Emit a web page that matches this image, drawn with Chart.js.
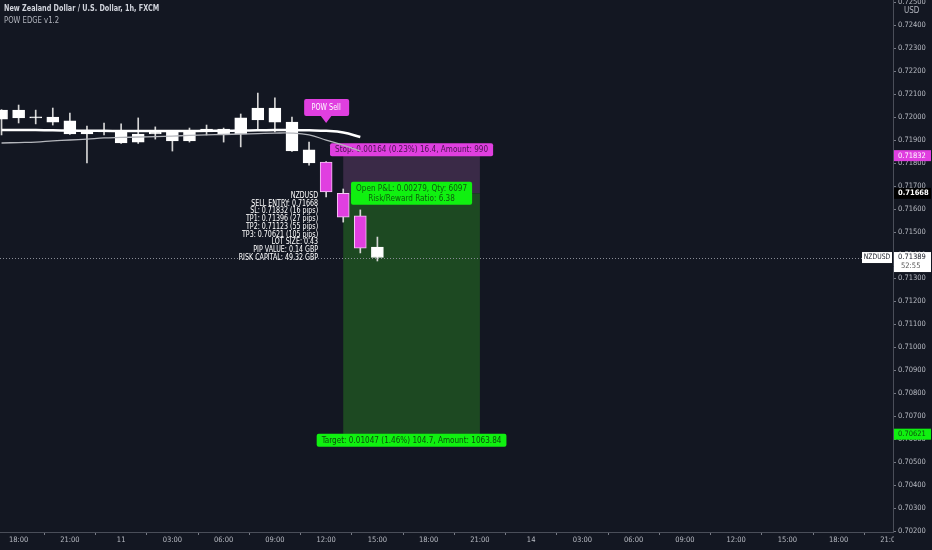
<!DOCTYPE html>
<html>
<head>
<meta charset="utf-8">
<style>
  html, body { margin: 0; padding: 0; background: #131722; }
  #caixa { width: 932px; height: 550px; }
</style>
<script src="https://cdn.jsdelivr.net/npm/chart.js@4.4.1/dist/chart.umd.min.js"></script>
</head>
<body>
<div id="caixa"><canvas id="graficoNzd" width="932" height="550"></canvas></div>
<script>
// 1. DATA (one candle per hour)
const openPrices  = [0.72030, 0.71996, 0.71998, 0.72000, 0.71983, 0.71926, 0.71935, 0.71939, 0.71891, 0.71926, 0.71935, 0.71896,
                     0.71935, 0.71948, 0.71926, 0.71987, 0.72039, 0.71978, 0.71857, 0.71804, 0.71668, 0.71570, 0.71435];
const highPrices  = [0.72032, 0.72052, 0.72030, 0.72039, 0.72017, 0.71961, 0.71974, 0.71970, 0.71996, 0.71957, 0.71937, 0.71952,
                     0.71965, 0.71952, 0.72013, 0.72104, 0.72083, 0.72000, 0.71891, 0.71806, 0.71687, 0.71596, 0.71478];
const lowPrices   = [0.71922, 0.71974, 0.71970, 0.71965, 0.71924, 0.71800, 0.71922, 0.71885, 0.71885, 0.71904, 0.71852, 0.71891,
                     0.71922, 0.71891, 0.71870, 0.71943, 0.71935, 0.71850, 0.71791, 0.71652, 0.71543, 0.71409, 0.71374];
const closePrices = [0.71991, 0.72030, 0.71996, 0.71978, 0.71926, 0.71939, 0.71936, 0.71887, 0.71926, 0.71935, 0.71896, 0.71935,
                     0.71948, 0.71926, 0.71996, 0.72039, 0.71978, 0.71852, 0.71800, 0.71674, 0.71565, 0.71430, 0.71389];
const signalCandles = [19, 20, 21];

const fastAverage = [0.71944, 0.71943, 0.71943, 0.71942, 0.71941, 0.71940, 0.71940, 0.71939, 0.71939, 0.71939, 0.71939,
                     0.71939, 0.71940, 0.71940, 0.71941, 0.71942, 0.71943, 0.71943, 0.71942, 0.71940, 0.71933, 0.71913];
const slowAverage = [0.71887, 0.71889, 0.71891, 0.71896, 0.71900, 0.71904, 0.71909, 0.71911, 0.71913, 0.71915, 0.71917,
                     0.71920, 0.71922, 0.71924, 0.71926, 0.71928, 0.71930, 0.71930, 0.71922, 0.71900, 0.71878, 0.71852];

const timeTickIndexes = [1, 4, 7, 10, 13, 16, 19, 22, 25, 28, 31, 34, 37, 40, 43, 46, 49, 52];
const timeTickLabels  = ['18:00', '21:00', '11', '03:00', '06:00', '09:00', '12:00', '15:00', '18:00',
                         '21:00', '14', '03:00', '06:00', '09:00', '12:00', '15:00', '18:00', '21:00'];
const priceTicks = [0.702, 0.703, 0.704, 0.705, 0.706, 0.707, 0.708, 0.709, 0.710, 0.711, 0.712, 0.713,
                    0.714, 0.715, 0.716, 0.717, 0.718, 0.719, 0.720, 0.721, 0.722, 0.723, 0.724, 0.725];

const entryPrice = 0.71668;
const stopPrice = 0.71832;
const targetPrice = 0.70621;
const lastPrice = 0.71389;
const signalPrice = 0.71974;
const positionFrom = 20;
const positionTo = 28;

const infoLines = ['NZDUSD', 'SELL ENTRY: 0.71668', 'SL: 0.71832 (16 pips)', 'TP1: 0.71396 (27 pips)',
                   'TP2: 0.71123 (55 pips)', 'TP3: 0.70621 (105 pips)', 'LOT SIZE: 0.43',
                   'PIP VALUE: 0.14 GBP', 'RISK CAPITAL: 49.32 GBP'];

// 2. COLOURS AND FONT
const fundo = '#131722';
const rosa = '#e03fe0';
const verde = '#10f010';
const textoEixo = '#b8bbc3';
const fonte = "'DejaVu Sans Condensed', 'DejaVu Sans', sans-serif";

const candleIndexes = openPrices.map((_, i) => i);
const isSignal = i => signalCandles.includes(i);

// fillText squeezed a little, TradingView's font is narrower than the ones we have
function escreve(ctx, t, x, y, aperto) {
    ctx.fillText(t, x, y, ctx.measureText(t).width * aperto);
}

function etiqueta(ctx, texto, cx, cy, cor, corTexto, tamanho, aperto) {
    const partes = Array.isArray(texto) ? texto : [texto];
    ctx.font = tamanho + 'px ' + fonte;
    const largura = Math.max(...partes.map(t => ctx.measureText(t).width)) * aperto + 10;
    const altura = partes.length * (tamanho + 1) + 3;
    ctx.fillStyle = cor;
    ctx.beginPath();
    ctx.roundRect(cx - largura / 2, cy - altura / 2, largura, altura, 2);
    ctx.fill();
    ctx.fillStyle = corTexto;
    ctx.textAlign = 'center';
    ctx.textBaseline = 'middle';
    partes.forEach((t, k) => {
        escreve(ctx, t, cx, cy - altura / 2 + 2 + (tamanho + 1) * (k + 0.5), aperto);
    });
}

// 3. POSITION ZONES AND LABELS (under the candles)
const desenhoPosicao = {
    id: 'desenhoPosicao',
    beforeDatasetsDraw(chart) {
        const ctx = chart.ctx, x = chart.scales.x, y = chart.scales.y;
        const esquerda = x.getPixelForValue(positionFrom);
        const direita = x.getPixelForValue(positionTo);
        const yStop = y.getPixelForValue(stopPrice);
        const yEntrada = y.getPixelForValue(entryPrice);
        const yAlvo = y.getPixelForValue(targetPrice);
        const meio = (esquerda + direita) / 2;
        ctx.save();
        ctx.fillStyle = '#3a2a47';
        ctx.fillRect(esquerda, yStop, direita - esquerda, yEntrada - yStop);
        ctx.fillStyle = '#1d4922';
        ctx.fillRect(esquerda, yEntrada, direita - esquerda, yAlvo - yEntrada);

        // last price dotted line
        const yUltimo = y.getPixelForValue(lastPrice);
        ctx.strokeStyle = '#8a8d96';
        ctx.lineWidth = 1;
        ctx.setLineDash([1, 2]);
        ctx.beginPath();
        ctx.moveTo(0, Math.round(yUltimo) + 0.5);
        ctx.lineTo(chart.chartArea.right, Math.round(yUltimo) + 0.5);
        ctx.stroke();
        ctx.setLineDash([]);

        etiqueta(ctx, 'Stop: 0.00164 (0.23%) 16.4, Amount: 990', meio, yStop - 6, rosa, '#4a1450', 9, 0.9);
        etiqueta(ctx, ['Open P&L: 0.00279, Qty: 6097', 'Risk/Reward Ratio: 6.38'], meio, yEntrada, verde, '#0d5a0d', 9, 0.9);
        etiqueta(ctx, 'Target: 0.01047 (1.46%) 104.7, Amount: 1063.84', meio, yAlvo + 6, verde, '#0d4d0d', 9, 0.9);

        // POW Sell marker
        const xSinal = x.getPixelForValue(signalCandles[0]);
        const ySinal = y.getPixelForValue(signalPrice);
        ctx.fillStyle = rosa;
        ctx.beginPath();
        ctx.roundRect(xSinal - 22, ySinal - 24, 45, 17, 2);
        ctx.fill();
        ctx.beginPath();
        ctx.moveTo(xSinal - 6, ySinal - 8);
        ctx.lineTo(xSinal + 6, ySinal - 8);
        ctx.lineTo(xSinal, ySinal);
        ctx.fill();
        ctx.fillStyle = '#ffffff';
        ctx.font = '8px ' + fonte;
        ctx.textAlign = 'center';
        ctx.textBaseline = 'middle';
        escreve(ctx, 'POW Sell', xSinal, ySinal - 15.5, 0.9);

        // info block, last line sits on the last price
        ctx.font = '8px ' + fonte;
        ctx.textAlign = 'right';
        const xTexto = x.getPixelForValue(signalCandles[0]) - 8;
        infoLines.forEach((linha, k) => {
            escreve(ctx, linha, xTexto, yUltimo - (infoLines.length - 1 - k) * 7.7, 0.88);
        });
        ctx.restore();
    },
    afterDraw(chart) {
        const ctx = chart.ctx, y = chart.scales.y, area = chart.chartArea;
        ctx.save();
        // corner under the price scale
        ctx.fillStyle = fundo;
        ctx.fillRect(area.right + 1, area.bottom + 1, 932 - area.right, 550 - area.bottom);
        ctx.fillRect(area.right + 4, 5, 32, 11);

        ctx.textBaseline = 'middle';
        ctx.textAlign = 'left';
        ctx.font = 'bold 9px ' + fonte;
        ctx.fillStyle = '#d1d4dc';
        escreve(ctx, 'New Zealand Dollar / U.S. Dollar, 1h, FXCM', 4, 9, 0.8);
        ctx.font = '9px ' + fonte;
        ctx.fillStyle = '#b2b5be';
        escreve(ctx, 'POW EDGE v1.2', 4, 21, 0.85);
        ctx.font = '8px ' + fonte;
        ctx.fillText('USD', area.right + 11, 10.5);

        // price tags on the axis
        const tag = (preco, cor, corTexto, negrito) => {
            const py = y.getPixelForValue(preco);
            ctx.fillStyle = cor;
            ctx.fillRect(area.right + 1, py - 5.5, 37, 11);
            ctx.fillStyle = corTexto;
            ctx.font = (negrito ? 'bold ' : '') + '7.5px ' + fonte;
            ctx.fillText(preco.toFixed(5), area.right + 5, py);
        };
        tag(stopPrice, rosa, '#ffffff', false);
        tag(entryPrice, '#000000', '#ffffff', true);
        tag(targetPrice, verde, '#0d4d0d', false);

        const yUltimo = y.getPixelForValue(lastPrice);
        ctx.fillStyle = '#ffffff';
        ctx.fillRect(area.right + 1, yUltimo - 5.5, 37, 20);
        ctx.fillRect(area.right - 31, yUltimo - 5.5, 30, 11);
        ctx.fillStyle = '#131722';
        ctx.font = '7.5px ' + fonte;
        ctx.fillText(lastPrice.toFixed(5), area.right + 5, yUltimo);
        ctx.fillStyle = '#555';
        ctx.fillText('52:55', area.right + 8, yUltimo + 9);
        ctx.fillStyle = '#131722';
        ctx.textAlign = 'center';
        escreve(ctx, 'NZDUSD', area.right - 16, yUltimo, 0.9);
        ctx.restore();
    }
};

// 4. CHART
const canvasGrafico = document.getElementById('graficoNzd').getContext('2d');

const graficoNzd = new Chart(canvasGrafico, {
    type: 'bar',
    data: {
        datasets: [
            {
                type: 'line',
                data: fastAverage.map((v, i) => ({ x: i, y: v })),
                borderColor: '#ffffff',
                borderWidth: 2.5,
                pointRadius: 0,
                tension: 0.4,
                order: 0
            },
            {
                type: 'line',
                data: slowAverage.map((v, i) => ({ x: i, y: v })),
                borderColor: '#b4b6bc',
                borderWidth: 1.3,
                pointRadius: 0,
                tension: 0.4,
                order: 0
            },
            {
                data: candleIndexes.map(i => ({ x: i, y: [lowPrices[i], highPrices[i]] })),
                backgroundColor: '#d6d6d6',
                barThickness: 1,
                grouped: false,
                order: 2
            },
            {
                data: candleIndexes.map(i => ({ x: i, y: [openPrices[i], closePrices[i]] })),
                backgroundColor: candleIndexes.map(i => isSignal(i) ? rosa : '#ffffff'),
                borderColor: candleIndexes.map(i => isSignal(i) ? '#f4c8f4' : '#ffffff'),
                borderWidth: 1,
                borderSkipped: false,
                barThickness: 12,
                minBarLength: 1,
                grouped: false,
                order: 1
            }
        ]
    },
    options: {
        responsive: false,
        animation: false,
        layout: { padding: 0, autoPadding: false },
        plugins: { legend: { display: false }, tooltip: { enabled: false } },
        scales: {
            x: {
                type: 'linear',
                min: -0.09,
                max: 52.18,
                offset: false,
                afterFit: eixo => {
                    eixo.height = 18;
                    eixo.paddingLeft = 0;
                    eixo.paddingRight = 0;
                },
                afterBuildTicks: eixo => { eixo.ticks = timeTickIndexes.map(v => ({ value: v })); },
                grid: { drawOnChartArea: false, color: '#787b86', tickLength: 3 },
                border: { color: '#4a4e59' },
                ticks: {
                    autoSkip: false,
                    maxRotation: 0,
                    padding: 1,
                    color: textoEixo,
                    font: { family: fonte, size: 7.5 },
                    callback: valor => timeTickLabels[timeTickIndexes.indexOf(valor)]
                }
            },
            y: {
                position: 'right',
                min: 0.701957,
                max: 0.725087,
                afterFit: eixo => {
                    eixo.width = 39;
                    eixo.paddingTop = 0;
                    eixo.paddingBottom = 0;
                },
                afterBuildTicks: eixo => { eixo.ticks = priceTicks.map(v => ({ value: v })); },
                grid: { drawOnChartArea: false, color: '#787b86', tickLength: 3 },
                border: { color: '#4a4e59' },
                ticks: {
                    padding: 2,
                    color: textoEixo,
                    font: { family: fonte, size: 7.5 },
                    callback: valor => valor.toFixed(5)
                }
            }
        }
    },
    plugins: [desenhoPosicao]
});
</script>
</body>
</html>
